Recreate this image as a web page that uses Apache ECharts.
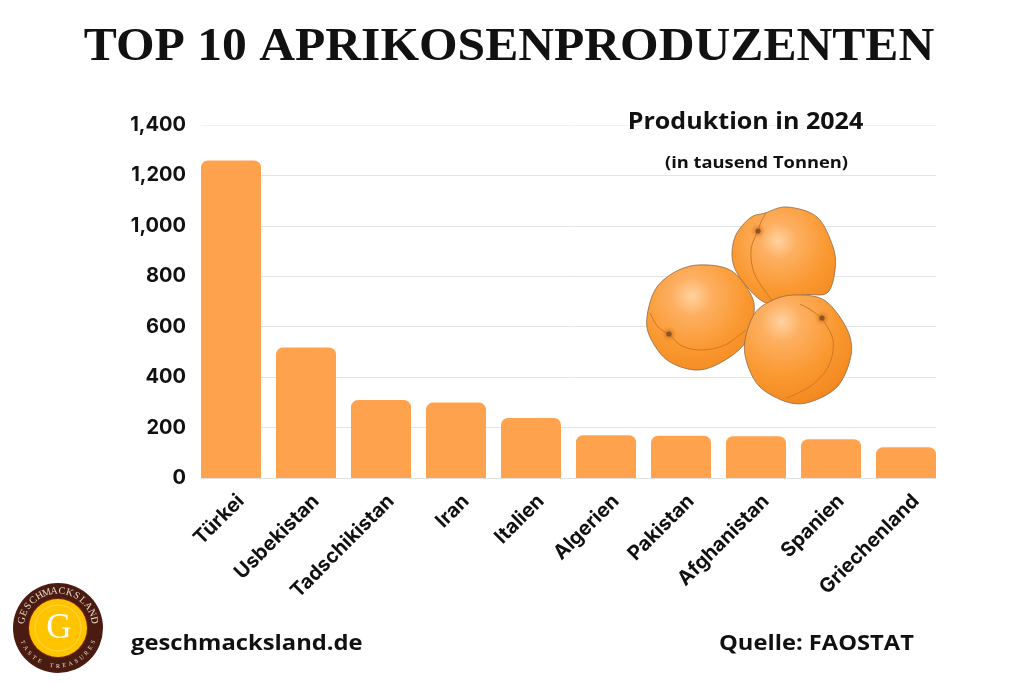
<!DOCTYPE html>
<html>
<head>
<meta charset="utf-8">
<style>
    html, body { margin: 0; padding: 0; background: #fff; }
    #chart { width: 1024px; height: 683px; }
</style>
<script src="https://cdn.jsdelivr.net/npm/echarts@6/dist/echarts.min.js"></script>
</head>
<body>
<div id="chart"></div>
<script>
var categories = ['Türkei', 'Usbekistan', 'Tadschikistan', 'Iran', 'Italien', 'Algerien', 'Pakistan', 'Afghanistan', 'Spanien', 'Griechenland'];
var production = [1259, 518, 309, 299, 238, 170, 168, 166, 154, 122];
var axisMin = 0;
var axisMax = 1400;
var axisStep = 200;

var myChart = echarts.init(document.getElementById('chart'));

var LABEL_FONT = 'Inter';
var TEXT_FONT = '"Open Sans"';

// smooth outline through hand-read points, used for the fruit drawing
echarts.graphic.registerShape('blob', echarts.graphic.extendShape({
    type: 'blob',
    shape: { points: [], closed: true },
    buildPath: function (ctx, shape) {
        var p = shape.points, n = p.length;
        function at(i) {
            return shape.closed ? p[(i + n) % n] : p[Math.max(0, Math.min(n - 1, i))];
        }
        ctx.moveTo(p[0][0], p[0][1]);
        var last = shape.closed ? n : n - 1;
        for (var i = 0; i < last; i++) {
            var a = at(i - 1), b = at(i), c = at(i + 1), e = at(i + 2);
            ctx.bezierCurveTo(
                b[0] + (c[0] - a[0]) / 6, b[1] + (c[1] - a[1]) / 6,
                c[0] - (e[0] - b[0]) / 6, c[1] - (e[1] - b[1]) / 6,
                c[0], c[1]
            );
        }
        if (shape.closed) ctx.closePath();
    }
}));

function skin(cx, cy) {
    return {
        type: 'radial', x: cx, y: cy, r: 0.85,
        colorStops: [
            { offset: 0, color: '#FFD2A0' },
            { offset: 0.22, color: '#FDAF60' },
            { offset: 0.6, color: '#FA9830' },
            { offset: 1, color: '#F0851C' }
        ]
    };
}

function apricot(outline, hx, hy, creases, stem) {
    var out = [{
        type: 'blob', z: 10,
        shape: { points: outline, closed: true },
        style: { fill: skin(hx, hy), stroke: '#8f6a48', lineWidth: 0.8 }
    }];
    creases.forEach(function (c) {
        out.push({
            type: 'blob', z: 10,
            shape: { points: c, closed: false },
            style: { fill: 'none', stroke: '#D07624', lineWidth: 1 }
        });
    });
    out.push({
        type: 'circle', z: 10,
        shape: { cx: stem[0], cy: stem[1], r: 8 },
        style: {
            fill: {
                type: 'radial', x: 0.5, y: 0.5, r: 0.5,
                colorStops: [{ offset: 0, color: 'rgba(170,80,15,0.7)' }, { offset: 1, color: 'rgba(240,130,30,0)' }]
            }
        }
    });
    out.push({
        type: 'circle', z: 10,
        shape: { cx: stem[0], cy: stem[1], r: 2.6 },
        style: { fill: '#8A5526' }
    });
    return out;
}

// text bent around the logo ring
function arcText(str, r, from, to, font, color, inward) {
    var out = [];
    for (var i = 0; i < str.length; i++) {
        var deg = from + (to - from) * i / (str.length - 1);
        var rad = deg * Math.PI / 180;
        out.push({
            type: 'text', z: 11,
            x: 58 + r * Math.cos(rad),
            y: 628 + r * Math.sin(rad),
            rotation: inward ? -(rad - Math.PI / 2) : -(rad + Math.PI / 2),
            style: { text: str[i], fill: color, align: 'center', verticalAlign: 'middle', font: font }
        });
    }
    return out;
}

var logo = [
    { type: 'circle', z: 10, shape: { cx: 58, cy: 628, r: 45 }, style: { fill: '#4A1B10' } },
    { type: 'circle', z: 10, shape: { cx: 58, cy: 628, r: 30 }, style: { fill: '#7A2A14' } },
    { type: 'circle', z: 10, shape: { cx: 58, cy: 628, r: 29 }, style: { fill: '#FFC400' } },
    { type: 'circle', z: 10, shape: { cx: 58, cy: 628, r: 23 }, style: { fill: 'none', stroke: '#FFDD66', lineWidth: 0.7 } },
    {
        type: 'text', z: 11, x: 59, y: 629,
        style: { text: 'G', fill: '#fff', align: 'center', verticalAlign: 'middle', font: '35px "Liberation Serif"' }
    }
].concat(
    arcText('GESCHMACKSLAND', 37, -168, -12, '10px "Liberation Serif"', '#EADBCB', false),
    arcText('TASTE TREASURES', 38, 158, 22, '6px "Liberation Serif"', '#EADBCB', true)
);

var fruit = [].concat(
    apricot(
        [[765, 213], [787, 207], [817, 217], [833, 247], [835, 270], [827, 293], [803, 295], [770, 304], [747, 287], [733, 263], [735, 237], [750, 218]],
        0.45, 0.35,
        [[[758, 231], [751, 250], [755, 275], [773, 302]], [[758, 231], [761, 222], [766, 213]]],
        [758, 231]
    ),
    apricot(
        [[698, 265], [730, 270], [750, 293], [754, 313], [745, 343], [720, 363], [695, 370], [667, 360], [650, 337], [647, 317], [655, 290], [673, 273]],
        0.42, 0.3,
        [[[669, 334], [682, 346], [702, 350], [725, 345], [746, 330]], [[650, 313], [658, 327], [669, 334]]],
        [669, 334]
    ),
    apricot(
        [[793, 295], [820, 298], [837, 313], [850, 337], [850, 360], [837, 387], [810, 402], [787, 402], [760, 387], [747, 363], [745, 340], [755, 313], [773, 300]],
        0.35, 0.25,
        [[[822, 318], [833, 340], [829, 365], [812, 385], [787, 398]], [[822, 318], [811, 310], [800, 304]]],
        [822, 318]
    )
);

// stretched a little to stand in for the wide tracking of the original type
function label(str, x, y, font, align, stretch) {
    return {
        type: 'text', z: 12, x: x, y: y, scaleX: stretch,
        style: { text: str, fill: '#111', align: align, verticalAlign: 'middle', font: font }
    };
}

var texts = [
    label('TOP 10 APRIKOSENPRODUZENTEN', 509, 48, 'bold 46px "Liberation Serif"', 'center', 1.078),
    label('Produktion in 2024', 745.5, 122, 'bold 23px ' + TEXT_FONT, 'center', 1.09),
    label('(in tausend Tonnen)', 756.5, 163, 'bold 16.5px ' + TEXT_FONT, 'center', 1.11),
    label('geschmacksland.de', 131, 644, 'bold 22px ' + TEXT_FONT, 'left', 1.08),
    label('Quelle: FAOSTAT', 719, 644, 'bold 22px ' + TEXT_FONT, 'left', 1.077)
];

var option = {
    animation: false,
    backgroundColor: '#ffffff',
    // first grid holds the gridlines, second one the bars (half a gap wider each side)
    grid: [
        { left: 201, right: 88, top: 125, bottom: 205 },
        { left: 193.5, right: 80.5, top: 125, bottom: 205 }
    ],
    xAxis: [
        {
            type: 'value', gridIndex: 0, min: 0, max: 1,
            axisLabel: { show: false }, axisTick: { show: false }, splitLine: { show: false },
            axisLine: { show: true, lineStyle: { color: '#e2e2e2', width: 1 } }
        },
        {
            type: 'category', gridIndex: 1, data: categories,
            axisLine: { show: false }, axisTick: { show: false },
            axisLabel: {
                interval: 0, rotate: 45, margin: 10, verticalAlign: 'top', padding: [4, 0, 0, 0],
                fontFamily: LABEL_FONT, fontWeight: 'bold', fontSize: 20, color: '#111'
            }
        }
    ],
    yAxis: [
        {
            type: 'value', gridIndex: 0, min: axisMin, max: axisMax, interval: axisStep,
            axisLine: { show: false }, axisTick: { show: false },
            axisLabel: {
                margin: 15, fontFamily: LABEL_FONT, fontWeight: 'bold', fontSize: 20, color: '#111',
                formatter: function (v) { return v.toLocaleString('en-US'); }
            },
            splitLine: {
                show: true,
                lineStyle: {
                    color: ['#e4e4e4', '#e4e4e4', '#e4e4e4', '#e4e4e4', '#e4e4e4', '#e4e4e4', '#e4e4e4', '#f1f1f1'],
                    width: 1
                }
            }
        },
        {
            type: 'value', gridIndex: 1, min: axisMin, max: axisMax, interval: axisStep, show: false
        }
    ],
    series: [{
        type: 'bar',
        xAxisIndex: 1,
        yAxisIndex: 1,
        data: production,
        barWidth: 60,
        itemStyle: { color: '#FFA24D', borderRadius: [7, 7, 0, 0] }
    }],
    graphic: { elements: fruit.concat(logo, texts) }
};

myChart.setOption(option);
</script>
</body>
</html>
